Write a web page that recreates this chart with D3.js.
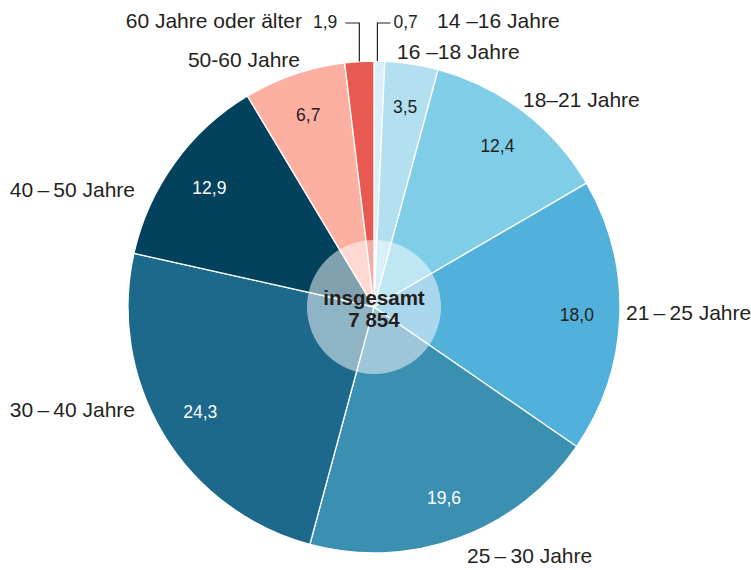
<!DOCTYPE html>
<html>
<head>
<meta charset="utf-8">
<script src="https://cdn.jsdelivr.net/npm/d3@7"></script>
<style>
  body { margin: 0; background: #fff; }
  svg text { font-family: "Liberation Sans", Arial, Helvetica, sans-serif; fill: #231f20; }
</style>
</head>
<body>
<div class="chart"></div>
<script>
// Altersgruppen (im Uhrzeigersinn ab 12 Uhr)
const categories = ["14 –16 Jahre", "16 –18 Jahre", "18–21 Jahre", "21\u2009–\u200925 Jahre", "25\u2009–\u200930 Jahre",
                    "30\u2009–\u200940 Jahre", "40\u2009–\u200950 Jahre", "50-60 Jahre", "60 Jahre oder älter"];
const shares = [0.7, 3.5, 12.4, 18.0, 19.6, 24.3, 12.9, 6.7, 1.9];
const totalLabel = ["insgesamt", "7 854"];
const colors = ["#d9eff9", "#b2e0f1", "#7fcde6", "#52b1da", "#3b8fb1", "#1c698c", "#03425d", "#fdb0a2", "#e85952"];
const whiteText = [false, false, false, false, true, true, true, false, false];

// hand placed category labels (offsets from pie centre, text baseline)
const labelSpots = [
    {dx: 63, dy: -279, anchor: "start", leader: true},
    {dx: 23, dy: -248, anchor: "start"},
    {dx: 149, dy: -200, anchor: "start"},
    {dx: 252, dy: 13, anchor: "start"},
    {dx: 93, dy: 256, anchor: "start"},
    {dx: -239, dy: 110, anchor: "end"},
    {dx: -239, dy: -110, anchor: "end"},
    {dx: -74, dy: -240, anchor: "end"},
    {dx: -72, dy: -279, anchor: "end", leader: true}
];

const width = 751, height = 570;
const cx = 374, cy = 307;
const radius = 246, innerCircle = 67, labelRadius = 203;

const locale = d3.formatLocale({decimal: ",", thousands: " ", grouping: [3], currency: ["", " €"]});
const fmt = locale.format(".1f");

const data = categories.map((c, i) => ({name: c, value: shares[i], color: colors[i], light: whiteText[i], spot: labelSpots[i]}));

const svg = d3.select(".chart").append("svg")
    .attr("width", width)
    .attr("height", height);

const g = svg.append("g").attr("transform", "translate(" + cx + "," + cy + ")");

const pie = d3.pie().sort(null).value(d => d.value);
const arcs = pie(data);
const arc = d3.arc().innerRadius(0).outerRadius(radius);

// slices
g.selectAll(".slice")
    .data(arcs)
    .enter().append("path")
    .attr("class", "slice")
    .attr("d", arc)
    .style("fill", d => d.data.color)
    .style("stroke", "#fff")
    .style("stroke-width", 1.3);

// see-through centre circle
g.append("circle")
    .attr("r", innerCircle)
    .style("fill", "#fff")
    .style("fill-opacity", 0.5);

// values inside the big slices
g.selectAll(".value")
    .data(arcs.filter(d => !d.data.spot.leader))
    .enter().append("text")
    .attr("class", "value")
    .attr("transform", d => {
        const a = (d.startAngle + d.endAngle) / 2;
        return "translate(" + (labelRadius * Math.sin(a)) + "," + (-labelRadius * Math.cos(a)) + ")";
    })
    .attr("dy", "0.35em")
    .attr("text-anchor", "middle")
    .style("font-size", "17.5px")
    .style("fill", d => d.data.light ? "#fff" : "#231f20")
    .text(d => fmt(d.data.value));

// category labels
g.selectAll(".cat")
    .data(arcs)
    .enter().append("text")
    .attr("class", "cat")
    .attr("x", d => d.data.spot.dx)
    .attr("y", d => d.data.spot.dy)
    .attr("text-anchor", d => d.data.spot.anchor)
    .style("font-size", "21px")
    .text(d => d.data.name);

// leader lines for the thin slices
const leaderY = -284;
const leaders = arcs.filter(d => d.data.spot.leader);
leaders.forEach(d => {
    const a = (d.startAngle + d.endAngle) / 2;
    const x0 = radius * Math.sin(a) - (a < Math.PI ? 2 : 0);
    const y0 = -radius * Math.cos(a);
    const right = a < Math.PI;
    const x1 = x0 + (right ? 13 : -14);
    g.append("path")
        .attr("d", "M" + x0 + "," + y0 + "V" + leaderY + "H" + x1)
        .style("fill", "none")
        .style("stroke", "#231f20")
        .style("stroke-width", 1.2);
    g.append("text")
        .attr("x", x1 + (right ? 3 : -8))
        .attr("y", -279)
        .attr("text-anchor", right ? "start" : "end")
        .style("font-size", "17.5px")
        .text(fmt(d.data.value));
});

// total in the middle
g.append("text")
    .attr("y", -2)
    .attr("text-anchor", "middle")
    .style("font-size", "20.5px")
    .style("font-weight", "bold")
    .text(totalLabel[0]);
g.append("text")
    .attr("y", 20)
    .attr("text-anchor", "middle")
    .style("font-size", "20.5px")
    .style("font-weight", "bold")
    .text(totalLabel[1]);
</script>
</body>
</html>
